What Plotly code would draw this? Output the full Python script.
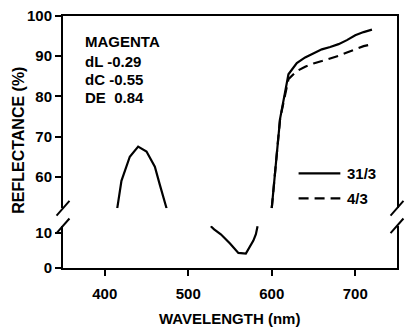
import plotly.graph_objects as go

# ---- data ----
wl_blue = [415, 420, 430, 440, 450, 460, 466, 474]
r_blue = [52.2, 59.0, 65.0, 67.5, 66.3, 62.5, 58.0, 52.2]

wl_trough = [527, 531, 539, 550, 560, 569, 578, 581, 583]
r_trough = [11.9, 11.0, 9.6, 7.0, 4.3, 4.1, 7.8, 9.6, 11.9]

wl_red = [600, 610, 620, 630, 640, 650, 660, 670, 680, 690, 700, 710, 720]
r_31 = [52.2, 74.5, 85.5, 88.3, 89.7, 90.8, 91.7, 92.3, 93.0, 94.0, 95.2, 96.0, 96.6]
r_4 = [52.2, 74.5, 84.3, 86.3, 87.4, 88.2, 88.8, 89.4, 90.1, 90.9, 91.8, 92.5, 93.0]

x_ticks = [400, 500, 600, 700]
y_upper_ticks = [60, 70, 80, 90, 100]
y_lower_ticks = [0, 10]
series_names = ["31/3", "4/3"]
info_lines = ["MAGENTA", "dL -0.29", "dC -0.55", "DE\u00a0 0.84"]

# ---- geometry helpers (pixel -> paper) ----
L, R, T, B = 63, 7, 11, 65
W, H = 406, 333
PW, PH = W - L - R, H - T - B


def fx(px):
    return (px - L) / PW


def fy(py):
    return (H - B - py) / PH


def bold_labels(vals):
    return [f"<b>{v}</b>" for v in vals]


FONT = "Liberation Sans, Arial, sans-serif"
BLACK = "#000000"

fig = go.Figure()

solid = dict(color=BLACK, width=2.2)
dashed = dict(color=BLACK, width=2.2, dash="10px,6px")

# upper subplot traces
fig.add_trace(go.Scatter(x=wl_blue, y=r_blue, mode="lines", line=solid,
                         xaxis="x2", yaxis="y2", showlegend=False))
fig.add_trace(go.Scatter(x=wl_red, y=r_4, mode="lines", line=dashed,
                         xaxis="x2", yaxis="y2", showlegend=False))
fig.add_trace(go.Scatter(x=wl_red, y=r_31, mode="lines", line=solid,
                         xaxis="x2", yaxis="y2", showlegend=False))
# lower subplot trace
fig.add_trace(go.Scatter(x=wl_trough, y=r_trough, mode="lines", line=solid,
                         xaxis="x", yaxis="y", showlegend=False))

up_bottom_px, low_top_px = 207, 225

tickfont = dict(family=FONT, size=15, color=BLACK)

fig.update_layout(
    width=W, height=H,
    margin=dict(l=L, r=R, t=T, b=B),
    paper_bgcolor="white", plot_bgcolor="white",
    showlegend=False,
    xaxis=dict(range=[350, 750], tickvals=x_ticks, ticktext=bold_labels(x_ticks),
               ticks="outside", ticklen=6, ticklabelstandoff=5,
               tickwidth=2, tickcolor=BLACK, showline=True, linewidth=2,
               linecolor=BLACK, showgrid=False, zeroline=False,
               tickfont=tickfont, anchor="y"),
    xaxis2=dict(range=[350, 750], matches="x", side="top", showline=True,
                linewidth=2, linecolor=BLACK, showticklabels=False, ticks="",
                showgrid=False, zeroline=False, anchor="y2"),
    yaxis=dict(domain=[0, fy(low_top_px)], range=[0, 12], tickvals=y_lower_ticks,
               ticktext=bold_labels(y_lower_ticks),
               ticks="outside", ticklen=6, tickwidth=2, tickcolor=BLACK,
               showline=True, mirror=True, linewidth=2, linecolor=BLACK,
               showgrid=False, zeroline=False, tickfont=tickfont, anchor="x"),
    yaxis2=dict(domain=[fy(up_bottom_px), 1], range=[52.2, 100],
                tickvals=y_upper_ticks, ticktext=bold_labels(y_upper_ticks),
                ticks="outside", ticklen=6, tickwidth=2,
                tickcolor=BLACK, showline=True, mirror=True, linewidth=2,
                linecolor=BLACK, showgrid=False, zeroline=False,
                tickfont=tickfont, anchor="x2"),
)

shapes = []
# axis break slashes
for ax_px in (63, 399):
    for cy in (up_bottom_px, low_top_px):
        shapes.append(dict(type="line", xref="paper", yref="paper",
                           x0=fx(ax_px - 6.5), y0=fy(cy + 7.5),
                           x1=fx(ax_px + 6.5), y1=fy(cy - 7.5),
                           line=dict(color=BLACK, width=2)))
# legend samples
shapes.append(dict(type="line", xref="paper", yref="paper",
                   x0=fx(300), x1=fx(342), y0=fy(171.5), y1=fy(171.5),
                   line=dict(color=BLACK, width=2.2)))
shapes.append(dict(type="line", xref="paper", yref="paper",
                   x0=fx(300), x1=fx(342), y0=fy(197), y1=fy(197),
                   line=dict(color=BLACK, width=2.2, dash="10px,6px")))
fig.update_layout(shapes=shapes)

annos = []
bold = dict(family=FONT, size=15, color=BLACK)
for name, py in zip(series_names, (171.5, 197)):
    annos.append(dict(text=f"<b>{name}</b>", xref="paper", yref="paper",
                      x=fx(347), y=fy(py), xanchor="left", yanchor="middle",
                      showarrow=False, font=bold))
for line, py in zip(info_lines, (37, 57, 76, 94)):
    annos.append(dict(text=f"<b>{line}</b>", xref="paper", yref="paper",
                      x=fx(83), y=fy(py), xanchor="left", yanchor="middle",
                      showarrow=False, font=bold))
annos.append(dict(text="<b>WAVELENGTH (nm)</b>", xref="paper", yref="paper",
                  x=fx(230), y=fy(320), xanchor="center", yanchor="middle",
                  showarrow=False, font=dict(family=FONT, size=15, color=BLACK)))
annos.append(dict(text="<b>REFLECTANCE (%)</b>", xref="paper", yref="paper",
                  x=fx(18), y=fy(138), xanchor="center", yanchor="middle",
                  textangle=-90, showarrow=False,
                  font=dict(family=FONT, size=16, color=BLACK)))
fig.update_layout(annotations=annos)

fig.write_html("out.html", config={"displayModeBar": False},
               post_script="document.body.style.margin='0';document.body.style.padding='0';")
